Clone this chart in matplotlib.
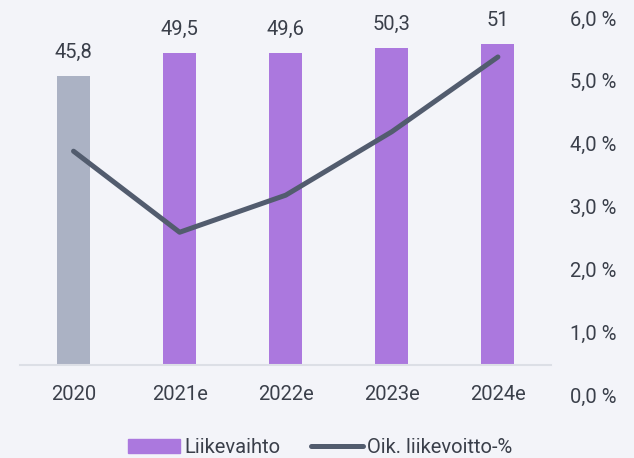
import matplotlib.pyplot as plt
import matplotlib.patches as mpatches
import numpy as np

years = ['2020', '2021e', '2022e', '2023e', '2024e']
revenue = [45.8, 49.5, 49.6, 50.3, 51.0]
revenue_labels = ['45,8', '49,5', '49,6', '50,3', '51']
ebit_pct = [3.88, 2.59, 3.18, 4.19, 5.38]
pct_ticks = [0, 1, 2, 3, 4, 5, 6]

bg = '#f3f4f9'
purple = '#ab78de'
grey_bar = '#abb2c4'
line_col = '#525c6e'
text_col = '#3a3f4a'

plt.rcParams['font.family'] = ['Roboto', 'DejaVu Sans']
fs = 14.5

fig = plt.figure(figsize=(6.34, 4.58), dpi=100)
fig.patch.set_facecolor(bg)
ax = fig.add_axes([0.0323, 0.1376, 0.8367, 0.8231])
ax.set_facecolor(bg)

x = np.arange(len(years))
bar_colors = [grey_bar] + [purple] * (len(years) - 1)
ax.bar(x, revenue, width=0.31, color=bar_colors, zorder=2)

for xi, val, lab in zip(x, revenue, revenue_labels):
    ax.annotate(lab, (xi, val), xytext=(0, 13), textcoords='offset points',
                ha='center', va='baseline', fontsize=fs, color=text_col)

ax.set_xlim(-0.5, len(years) - 0.5)
ax.set_ylim(-4.76, 55.08)
ax.set_yticks([])
for s in ['top', 'right', 'left']:
    ax.spines[s].set_visible(False)
ax.spines['bottom'].set_position(('data', 0))
ax.spines['bottom'].set_color('#dcdfe6')
ax.spines['bottom'].set_linewidth(1.5)
ax.set_xticks(x)
ax.set_xticklabels(years)
ax.tick_params(axis='x', length=0, pad=14.4, labelsize=fs, labelcolor=text_col)

ax2 = ax.twinx()
line, = ax2.plot(x, ebit_pct, color=line_col, linewidth=3.6, solid_capstyle='round',
                 solid_joinstyle='round', zorder=3)
ax2.set_ylim(0, 6)
ax2.set_yticks(pct_ticks)
ax2.set_yticklabels([f'{v:.1f} %'.replace('.', ',') for v in pct_ticks])
ax2.tick_params(axis='y', length=0, pad=13.7, labelsize=fs, labelcolor=text_col)
for s in ['top', 'right', 'left', 'bottom']:
    ax2.spines[s].set_visible(False)

bar_handle = mpatches.Patch(color=purple)
fig.legend([bar_handle, line], ['Liikevaihto', 'Oik. liikevoitto-%'], loc='center',
           bbox_to_anchor=(0.505, 0.022), ncol=2, frameon=False,
           fontsize=fs, handlelength=2.6, handletextpad=0.2,
           columnspacing=1.5, labelcolor=text_col)

fig.savefig('out.png', dpi=100, facecolor=bg)
